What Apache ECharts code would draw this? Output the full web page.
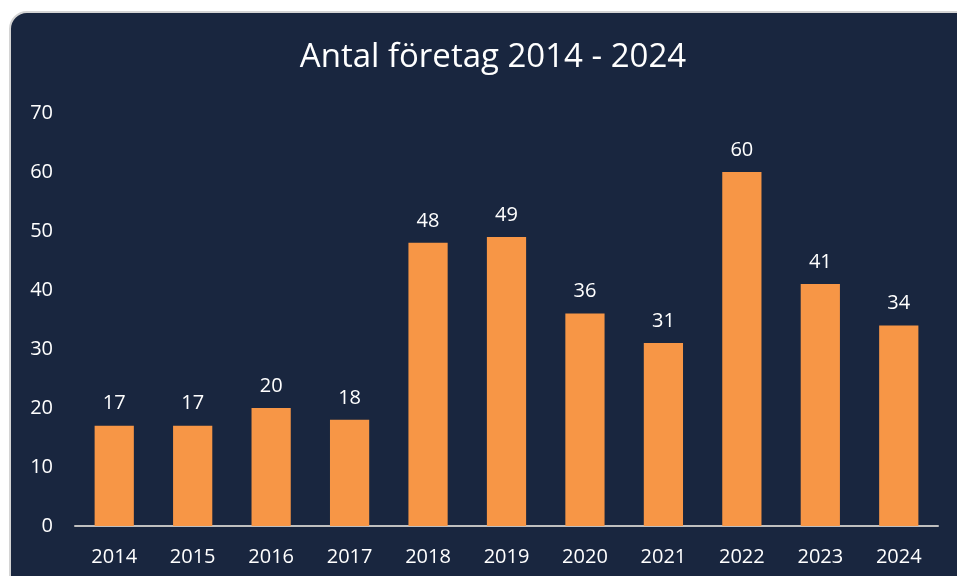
<!DOCTYPE html>
<html>
<head>
<meta charset="utf-8">
<script src="https://cdn.jsdelivr.net/npm/echarts@6/dist/echarts.min.js"></script>
<style>
  html, body { margin: 0; padding: 0; background: #ffffff; overflow: hidden; }
  #card {
    position: absolute; left: 9px; top: 11px; width: 966px; height: 590px;
    background: #19263f; border: 2px solid #d4d4d4; border-radius: 18px;
    box-sizing: border-box;
  }
  #chart { position: absolute; left: 0; top: 0; width: 957px; height: 576px; }
</style>
</head>
<body>
<div id="card"></div>
<div id="chart"></div>
<script>
const years = ["2014", "2015", "2016", "2017", "2018", "2019", "2020", "2021", "2022", "2023", "2024"]
const companies = [17, 17, 20, 18, 48, 49, 36, 31, 60, 41, 34]
const yTicks = { min: 0, max: 70, interval: 10 }

const font = "'Open Sans', 'Noto Sans', sans-serif"

const chart = echarts.init(document.getElementById("chart"))

chart.setOption({
  backgroundColor: "transparent",
  animation: false,
  title: {
    text: "Antal företag 2014 - 2024",
    left: 488,
    top: 36,
    textAlign: "center",
    textStyle: { color: "#ffffff", fontFamily: font, fontSize: 33, fontWeight: "normal" },
  },
  grid: { left: 75, right: 19, top: 113, bottom: 50 },
  xAxis: {
    type: "category",
    data: years,
    axisLine: { lineStyle: { color: "#bfbfbf", width: 2 } },
    axisTick: { show: false },
    axisLabel: { color: "#ffffff", fontFamily: font, fontSize: 20, margin: 21 },
  },
  yAxis: {
    type: "value",
    min: yTicks.min,
    max: yTicks.max,
    interval: yTicks.interval,
    axisLine: { show: false },
    axisTick: { show: false },
    splitLine: { show: false },
    axisLabel: { color: "#ffffff", fontFamily: font, fontSize: 20, margin: 22 },
  },
  series: [
    {
      type: "bar",
      data: companies,
      barWidth: "50%",
      itemStyle: { color: "#f79646" },
      label: {
        show: true,
        position: "top",
        distance: 12,
        color: "#ffffff",
        fontFamily: font,
        fontSize: 20,
      },
    },
  ],
})
</script>
</body>
</html>
